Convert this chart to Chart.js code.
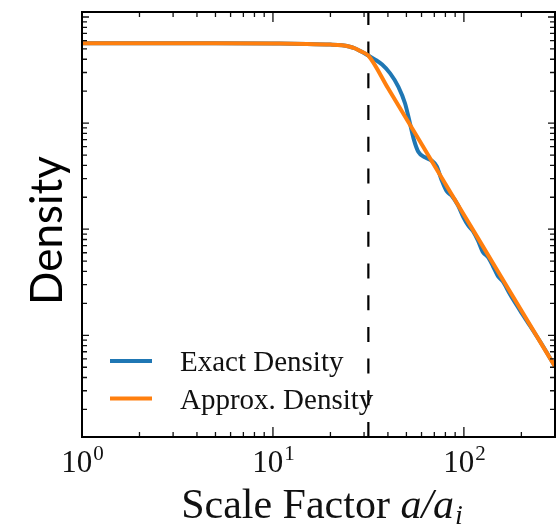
<!DOCTYPE html>
<html>
<head>
<meta charset="utf-8">
<script src="https://cdn.jsdelivr.net/npm/chart.js@4/dist/chart.umd.min.js"></script>
<style>html,body{margin:0;padding:0;background:#fff;}canvas{display:block;}</style>
</head>
<body>
<canvas id="c" width="556" height="525"></canvas>
<script>
// ---- data ----
const seriesNames = ['Exact Density', 'Approx. Density'];
const exactX = [1, 2, 5, 10, 15, 20, 23, 25, 27, 29, 31.6, 34.3, 37.3, 41.1, 45.4, 49.2, 52.2, 54.8, 57.7, 62.6, 67.8, 72.0, 76.5, 81.3, 86.7, 93.1, 99.3, 105.1, 111.6, 118.6, 125.9, 133.7, 142.0, 150.8, 160.2, 174.3, 196.7, 221.8, 250.2, 300];
const exactY = [565, 565, 565, 562, 558, 550, 541, 527, 505, 473, 433, 397, 356, 294, 220, 153, 99.3, 69.2, 53.8, 47.5, 44.3, 39.3, 29.0, 22.8, 20.5, 16.8, 13.0, 10.9, 9.57, 7.80, 6.07, 5.45, 4.48, 3.61, 3.20, 2.44, 1.72, 1.23, 0.878, 0.510];
const approxX = [1, 2, 5, 10, 15, 20, 23, 25, 27, 29, 31.6, 40, 60, 100, 150, 200, 300];
const approxY = [565, 565, 565, 562, 558, 550, 541, 527, 505, 473, 433, 214, 63.5, 13.7, 4.06, 1.71, 0.508];
const transitionX = [31.6];
const xTickValues = [1, 10, 100];
const xTickBase = ['10', '10', '10'];
const xTickExp = ['0', '1', '2'];
const xRange = [1, 300];
const yRange = [0.11, 1115];
const xTitle = ['Scale Factor ', 'a/a', 'i'];
const yTitle = 'Density';
const colors = ['#1f77b4', '#ff7f0e'];

const SERIF = "'Liberation Serif', serif";

function logTicks(min, max) {
  const out = [];
  for (let e = Math.floor(Math.log10(min)); e <= Math.ceil(Math.log10(max)); e++) {
    for (let m = 1; m <= 9; m++) {
      const v = m * Math.pow(10, e);
      if (v >= min * 0.9999 && v <= max * 1.0001) out.push({v, major: m === 1});
    }
  }
  return out;
}

const decor = {
  id: 'decor',
  beforeDatasetsDraw(chart) {
    const ctx = chart.ctx, a = chart.chartArea, xs = chart.scales.x;
    ctx.save();
    ctx.strokeStyle = '#000';
    ctx.lineWidth = 2.2;
    ctx.setLineDash([15, 16.7]);
    transitionX.forEach(v => {
      const px = xs.getPixelForValue(v);
      ctx.beginPath();
      ctx.moveTo(px, a.bottom);
      ctx.lineTo(px, a.top);
      ctx.stroke();
    });
    ctx.restore();
  },
  afterDatasetsDraw(chart) {
    const ctx = chart.ctx, a = chart.chartArea, xs = chart.scales.x, ys = chart.scales.y;
    ctx.save();
    // ticks
    ctx.strokeStyle = '#111';
    ctx.lineWidth = 1.3;
    logTicks(xRange[0], xRange[1]).forEach(t => {
      const px = xs.getPixelForValue(t.v);
      const len = t.major ? 10 : 5;
      ctx.beginPath();
      ctx.moveTo(px, a.bottom); ctx.lineTo(px, a.bottom - len);
      ctx.moveTo(px, a.top); ctx.lineTo(px, a.top + len);
      ctx.stroke();
    });
    logTicks(yRange[0], yRange[1]).forEach(t => {
      const py = ys.getPixelForValue(t.v);
      const len = t.major ? 7 : 5;
      ctx.beginPath();
      ctx.moveTo(a.left, py); ctx.lineTo(a.left + len, py);
      ctx.moveTo(a.right, py); ctx.lineTo(a.right - len, py);
      ctx.stroke();
    });
    // frame
    ctx.strokeStyle = '#000';
    ctx.lineWidth = 2;
    ctx.strokeRect(a.left, a.top, a.right - a.left, a.bottom - a.top);

    // x tick labels
    ctx.fillStyle = '#111';
    ctx.textBaseline = 'alphabetic';
    ctx.textAlign = 'left';
    const baseFont = '31px ' + SERIF, supFont = '21px ' + SERIF;
    xTickValues.forEach((v, i) => {
      const px = xs.getPixelForValue(v);
      ctx.font = baseFont; const w1 = ctx.measureText(xTickBase[i]).width;
      ctx.font = supFont; const w2 = ctx.measureText(xTickExp[i]).width;
      const x0 = px - (w1 + w2) / 2;
      ctx.font = baseFont; ctx.fillText(xTickBase[i], x0, 472);
      ctx.font = supFont; ctx.fillText(xTickExp[i], x0 + w1 + 1, 460);
    });

    // x title
    const f1 = '42px ' + SERIF, f2 = 'italic 42px ' + SERIF, f3 = 'italic 28px ' + SERIF;
    ctx.font = f1; const t1 = ctx.measureText(xTitle[0]).width;
    ctx.font = f2; const t2 = ctx.measureText(xTitle[1]).width;
    ctx.font = f3; const t3 = ctx.measureText(xTitle[2]).width;
    const cx = (a.left + a.right) / 2 + 3;
    let sx = cx - (t1 + t2 + t3) / 2;
    ctx.font = f1; ctx.fillText(xTitle[0], sx, 518);
    ctx.font = f2; ctx.fillText(xTitle[1], sx + t1, 518);
    ctx.font = f3; ctx.fillText(xTitle[2], sx + t1 + t2 + 1, 524);

    // y title
    ctx.save();
    ctx.fillStyle = '#000';
    ctx.font = "44px Lato, 'Open Sans', sans-serif";
    ctx.translate(62, 230.5);
    ctx.rotate(-Math.PI / 2);
    ctx.textAlign = 'center';
    ctx.fillText(yTitle, 0, 0);
    ctx.restore();

    // legend
    const legY = [361, 398.5];
    ctx.font = '29px ' + SERIF;
    ctx.textAlign = 'left';
    seriesNames.forEach((n, i) => {
      ctx.strokeStyle = colors[i];
      ctx.lineWidth = 4;
      ctx.beginPath();
      ctx.moveTo(110, legY[i]); ctx.lineTo(152, legY[i]);
      ctx.stroke();
      ctx.fillStyle = '#111';
      ctx.fillText(n, 180, legY[i] + 10);
    });
    ctx.restore();
  }
};

new Chart(document.getElementById('c'), {
  type: 'line',
  data: {
    datasets: [
      {label: seriesNames[0], data: exactX.map((x, i) => ({x, y: exactY[i]})), borderColor: colors[0], borderWidth: 4, pointRadius: 0, cubicInterpolationMode: 'monotone', fill: false, order: 1, clip: 0},
      {label: seriesNames[1], data: approxX.map((x, i) => ({x, y: approxY[i]})), borderColor: colors[1], borderWidth: 4, pointRadius: 0, cubicInterpolationMode: 'monotone', fill: false, order: 0, clip: 0}
    ]
  },
  options: {
    responsive: false,
    devicePixelRatio: 1,
    animation: false,
    layout: {padding: {left: 82, right: 1, top: 12, bottom: 88}},
    plugins: {legend: {display: false}, tooltip: {enabled: false}},
    scales: {
      x: {type: 'logarithmic', min: xRange[0], max: xRange[1], display: false},
      y: {type: 'logarithmic', min: yRange[0], max: yRange[1], display: false}
    }
  },
  plugins: [decor]
});
</script>
</body>
</html>
